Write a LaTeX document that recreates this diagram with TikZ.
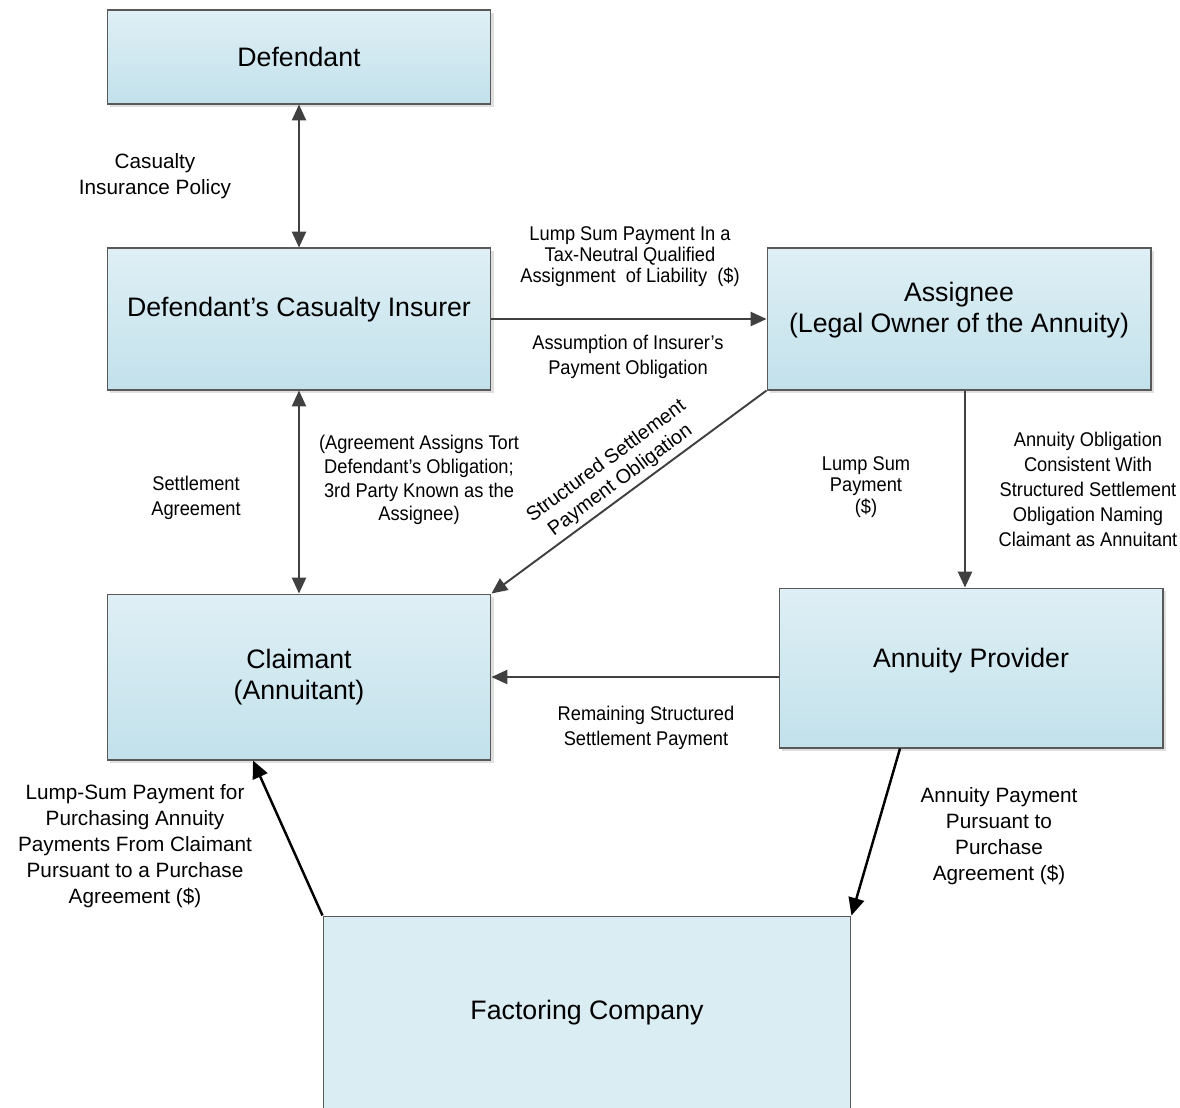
\documentclass[tikz,border=0pt]{standalone}
\usepackage{fontspec}
\setmainfont{Liberation Sans}
\newfontfamily\narrowfont[FakeStretch=0.92]{Liberation Sans}
\usetikzlibrary{arrows.meta,shadows}
\definecolor{boxtop}{HTML}{DFEFF5}
\definecolor{boxbot}{HTML}{C2E1EB}
\definecolor{boxflat}{HTML}{DAEDF3}
\definecolor{linegray}{HTML}{404040}
\tikzset{
  party/.style={draw=black!65, line width=0.6pt, top color=boxtop, bottom color=boxbot,
    drop shadow={shadow xshift=1.6pt, shadow yshift=-1.6pt, fill=black!25},
    minimum width=7.68cm, align=center, font=\fontsize{15.2}{17.6}\selectfont},
  lbl/.style={align=center, font=\fontsize{11.8}{14.7}\selectfont},
  nlbl/.style={align=center, font=\narrowfont\fontsize{11.3}{14.2}\selectfont},
  flow/.style={draw=linegray, line width=1.1pt, -{Triangle[length=9pt,width=8pt]}},
  both/.style={flow, {Triangle[length=9pt,width=8pt]}-{Triangle[length=9pt,width=8pt]}},
  cash/.style={draw=black, line width=1.4pt, -{Triangle[length=10pt,width=9pt]}}
}
\begin{document}
\begin{tikzpicture}[x=0.02cm, y=-0.02cm]
  \useasboundingbox (0,0) rectangle (1180,1107);
  % parties
  \node[party, minimum height=1.88cm] (defendant) at (299,57) {Defendant};
  \node[party, minimum height=2.84cm] (insurer) at (299,319) {Defendant’s Casualty Insurer\\[-0.14cm]};
  \node[party, minimum height=2.84cm] (assignee) at (959,319) {Assignee\\(Legal Owner of the Annuity)\\[-0.14cm]};
  \node[party, minimum height=3.32cm] (claimant) at (299,677) {Claimant\\(Annuitant)};
  \node[party, minimum height=3.2cm] (provider) at (971,668) {Annuity Provider\\[-0.22cm]};
  \node[draw=black!65, line width=0.6pt, fill=boxflat, minimum width=10.56cm, minimum height=3.88cm,
    font=\fontsize{15.2}{17.6}\selectfont] (factoring) at (587,1013) {Factoring Company};

  % connectors
  \draw[both] (defendant.south) -- (insurer.north);
  \draw[both] (insurer.south) -- (claimant.north);
  \draw[flow] (insurer.east) -- (assignee.west);
  \draw[flow] (assignee.south west) -- node[align=center, font=\fontsize{11.3}{13.4}\selectfont, sloped, above=-1pt] {Structured Settlement\\Payment Obligation} (claimant.north east);
  \draw[flow] ([xshift=0.12cm]assignee.south) -- ([xshift=0.12cm]assignee.south |- provider.north);
  \draw[flow] (provider.west |- claimant.east) -- (claimant.east);
  \draw[cash] ([xshift=-1.42cm]provider.south) -- (factoring.north east);
  \draw[cash] (factoring.north west) -- ([xshift=-0.92cm]claimant.south);

  % labels
  \node[lbl] (policy) at (155,176) {Casualty\\Insurance Policy};
  \node[nlbl, font=\narrowfont\fontsize{11.3}{11.9}\selectfont] (lumpqa) at (630,257) {Lump Sum Payment In a\\Tax-Neutral Qualified\\Assignment~ of Liability~ (\$)};
  \node[nlbl] (assumption) at (628,357) {Assumption of Insurer’s\\Payment Obligation};
  \node[nlbl] (agreement) at (196,498) {Settlement\\Agreement};
  \node[nlbl, font=\narrowfont\fontsize{11.3}{13.6}\selectfont] (assigns) at (419,480) {(Agreement Assigns Tort\\Defendant’s Obligation;\\3rd Party Known as the\\Assignee)};
  \node[nlbl, font=\narrowfont\fontsize{11.3}{12.2}\selectfont] (lumpsum) at (866,487) {Lump Sum\\Payment\\(\$)};
  \node[nlbl] (annobl) at (1088,489) {Annuity Obligation\\Consistent With\\Structured Settlement\\Obligation Naming\\Claimant as Annuitant};
  \node[nlbl] (remaining) at (646,728) {Remaining Structured\\Settlement Payment};
  \node[lbl] (purchase) at (135,846) {Lump-Sum Payment for\\Purchasing Annuity\\Payments From Claimant\\Pursuant to a Purchase\\Agreement (\$)};
  \node[lbl] (annpay) at (999,836) {Annuity Payment\\Pursuant to\\Purchase\\Agreement (\$)};
\end{tikzpicture}
\end{document}
